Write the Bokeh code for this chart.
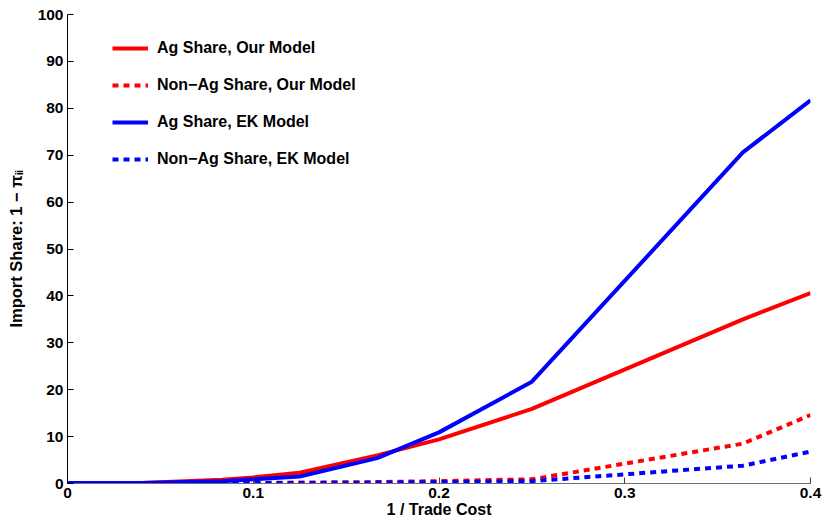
from bokeh.plotting import figure
from bokeh.models import FixedTicker, Legend, LegendItem, ColumnDataSource
from bokeh.embed import file_html
from bokeh.resources import INLINE

# ---- data ----
inv_trade_cost = [0.0, 0.04, 0.0833, 0.1, 0.125, 0.1667, 0.2, 0.25, 0.3636, 0.4]
ag_our = [0.1, 0.1, 0.8, 1.3, 2.3, 6.0, 9.4, 15.9, 35.0, 40.6]
ag_ek = [0.1, 0.1, 0.5, 0.9, 1.5, 5.4, 10.9, 21.7, 70.6, 81.7]
nonag_our = [0.0, 0.0, 0.1, 0.1, 0.2, 0.3, 0.5, 0.9, 8.5, 14.6]
nonag_ek = [0.0, 0.0, 0.1, 0.1, 0.1, 0.2, 0.3, 0.5, 3.8, 6.8]

series_labels = ["Ag Share, Our Model", "Non\u2212Ag Share, Our Model",
                 "Ag Share, EK Model", "Non\u2212Ag Share, EK Model"]
x_ticks = [0.0, 0.1, 0.2, 0.3, 0.4]
x_tick_labels = ["0", "0.1", "0.2", "0.3", "0.4"]
y_ticks = [0, 10, 20, 30, 40, 50, 60, 70, 80, 90, 100]
x_title = "1 / Trade Cost"
y_title = "Import Share: 1 \u2212 \u03c0\u1d62\u1d62"

FONT = "Liberation Sans"

p = figure(width=823, height=523, output_backend="svg", toolbar_location=None,
           x_range=(0, 0.4), y_range=(0, 100),
           min_border_left=67, min_border_right=13, min_border_top=14, min_border_bottom=40)
p.outline_line_color = None
p.grid.visible = False
p.background_fill_color = "white"
p.border_fill_color = "white"

for ax in (p.xaxis[0], p.yaxis[0]):
    ax.major_label_text_font = FONT
    ax.major_label_text_font_style = "bold"
    ax.major_label_text_font_size = "15.5px"
    ax.major_label_text_color = "black"
    ax.major_tick_in = 6
    ax.major_tick_out = 0
    ax.minor_tick_line_color = None
    ax.major_tick_line_color = "#404040"
    ax.axis_label_text_font = FONT
    ax.axis_label_text_font_style = "bold"
    ax.axis_label_text_color = "black"

p.xaxis.ticker = FixedTicker(ticks=x_ticks)
p.xaxis.major_label_overrides = {t: l for t, l in zip(x_ticks, x_tick_labels)}
p.xaxis.axis_line_color = "#707070"
p.xaxis.major_label_standoff = 4
p.xaxis.axis_label = x_title
p.xaxis.axis_label_text_font_size = "16px"
p.xaxis.axis_label_standoff = 0

p.yaxis.ticker = FixedTicker(ticks=y_ticks)
p.yaxis.axis_line_color = "black"
p.yaxis.major_tick_line_color = "black"
p.yaxis.major_label_standoff = 4
p.yaxis.axis_label = y_title
p.yaxis.axis_label_text_font_size = "16.5px"
p.yaxis.axis_label_standoff = 10

src = ColumnDataSource(dict(x=inv_trade_cost, ag_our=ag_our, ag_ek=ag_ek,
                            nonag_our=nonag_our, nonag_ek=nonag_ek))

r_nonag_our = p.line("x", "nonag_our", source=src, line_color="#ff0000", line_width=4, line_dash="6 5")
r_nonag_ek = p.line("x", "nonag_ek", source=src, line_color="#0000ff", line_width=4, line_dash="6 5")
r_ag_our = p.line("x", "ag_our", source=src, line_color="#ff0000", line_width=4)
r_ag_ek = p.line("x", "ag_ek", source=src, line_color="#0000ff", line_width=4)

legend = Legend(items=[
    LegendItem(label=series_labels[0], renderers=[r_ag_our]),
    LegendItem(label=series_labels[1], renderers=[r_nonag_our]),
    LegendItem(label=series_labels[2], renderers=[r_ag_ek]),
    LegendItem(label=series_labels[3], renderers=[r_nonag_ek]),
])
legend.location = (45, 314)
legend.padding = 0
legend.margin = 0
legend.spacing = 17
legend.glyph_width = 36
legend.glyph_height = 20
legend.label_height = 20
legend.label_standoff = 9
legend.border_line_color = None
legend.background_fill_alpha = 0
legend.label_text_font = FONT
legend.label_text_font_style = "bold"
legend.label_text_font_size = "16px"
legend.label_text_color = "black"
p.add_layout(legend, "center")

open("out.html", "w").write(file_html(p, INLINE))
